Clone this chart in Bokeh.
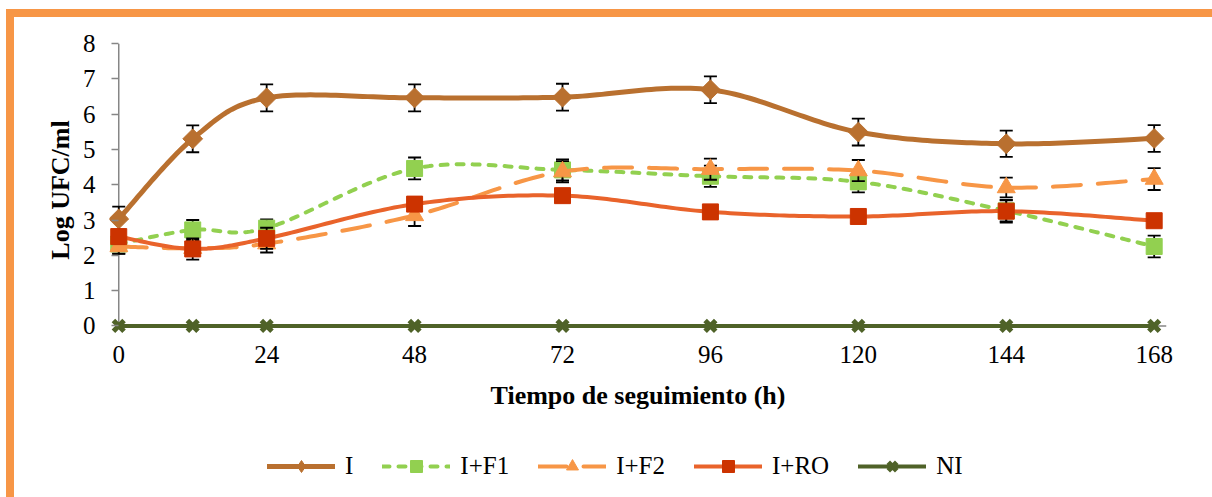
import numpy as np
from bokeh.plotting import figure
from bokeh.layouts import column
from bokeh.models import Range1d, FixedTicker, ColumnDataSource, Legend, LegendItem
from bokeh.embed import file_html
from bokeh.resources import INLINE

# ---------------- data ----------------
hours = [0, 12, 24, 48, 72, 96, 120, 144, 168]
x_ticks = [0, 24, 48, 72, 96, 120, 144, 168]
y_ticks = [0, 1, 2, 3, 4, 5, 6, 7, 8]
x_end = 170

names = ["I", "I+F1", "I+F2", "I+RO", "NI"]
vals_I = [3.03, 5.30, 6.46, 6.46, 6.48, 6.69, 5.49, 5.16, 5.31]
err_I = [0.35, 0.38, 0.38, 0.38, 0.38, 0.38, 0.38, 0.37, 0.38]
vals_F1 = [2.32, 2.72, 2.77, 4.46, 4.42, 4.24, 4.08, 3.26, 2.25]
err_F1 = [0.28, 0.28, 0.25, 0.31, 0.30, 0.30, 0.30, 0.30, 0.31]
vals_F2 = [2.25, 2.20, 2.33, 3.13, 4.37, 4.44, 4.40, 3.92, 4.16]
err_F2 = [0.20, 0.20, 0.25, 0.30, 0.30, 0.30, 0.30, 0.28, 0.31]
vals_RO = [2.53, 2.18, 2.48, 3.45, 3.69, 3.23, 3.10, 3.25, 2.98]
err_RO = [0.20, 0.30, 0.30, 0.15, 0.15, 0.15, 0.15, 0.32, 0.15]
vals_NI = [0, 0, 0, 0, 0, 0, 0, 0, 0]

x_title = "Tiempo de seguimiento (h)"
y_title = "Log UFC/ml"

# ---------------- helpers ----------------
def smooth(xs, ys, n=30):
    """Excel-like smoothed line (Catmull-Rom Bezier) through the data points."""
    pts = np.column_stack([xs, ys]).astype(float)
    out = [pts[0]]
    t = np.linspace(0, 1, n + 1)[1:, None]
    for i in range(len(pts) - 1):
        p0 = pts[i - 1] if i > 0 else pts[i]
        p1, p2 = pts[i], pts[i + 1]
        p3 = pts[i + 2] if i + 2 < len(pts) else pts[i + 1]
        c1 = p1 + (p2 - p0) / 6.0
        c2 = p2 - (p3 - p1) / 6.0
        seg = (1 - t) ** 3 * p1 + 3 * (1 - t) ** 2 * t * c1 + 3 * (1 - t) * t ** 2 * c2 + t ** 3 * p2
        out.extend(seg)
    out = np.array(out)
    return out[:, 0], out[:, 1]

orange = "#F79646"
axis_grey = "#868686"
font = "Liberation Serif"
W = 1198
H_MAIN = 419
H_LEG = 61

p = figure(width=W, height=H_MAIN, output_backend="svg", toolbar_location=None,
           x_range=Range1d(-1.5, x_end), y_range=Range1d(-0.3, 8),
           min_border_left=95, min_border_right=46, min_border_top=26, min_border_bottom=100)
p.grid.visible = False
p.outline_line_color = None
p.background_fill_color = "white"
p.border_fill_color = "white"

p.xaxis.ticker = FixedTicker(ticks=x_ticks)
p.yaxis.ticker = FixedTicker(ticks=y_ticks)
for ax in (p.xaxis, p.yaxis):
    ax.axis_line_color = None
    ax.major_tick_line_color = axis_grey
    ax.major_tick_line_width = 1.5
    ax.minor_tick_line_color = None
    ax.major_label_text_font = font
    ax.major_label_text_font_size = "25px"
    ax.major_label_text_color = "black"
    ax.axis_label_text_font = font
    ax.axis_label_text_font_size = "26px"
    ax.axis_label_text_font_style = "bold"
    ax.axis_label_text_color = "black"
p.xaxis.major_tick_out = 0
p.xaxis.major_tick_in = 0
p.xaxis.major_label_standoff = 9
p.xaxis.axis_label = x_title
p.xaxis.axis_label_standoff = 15
p.yaxis.major_tick_out = -2
p.yaxis.major_tick_in = 9
p.yaxis.major_label_standoff = 14
p.yaxis.axis_label = y_title
p.yaxis.axis_label_standoff = 5

# axis lines through the origin
p.segment(x0=[x_ticks[0], x_ticks[0]], y0=[y_ticks[0], y_ticks[0]],
          x1=[x_ticks[0], x_end], y1=[y_ticks[-1], y_ticks[0]],
          line_color=axis_grey, line_width=1.5)

specs = [
    # name, values, errors, line color, dash, line width, marker, marker color, size, angle,
    # legend marker, legend marker size
    ("I", vals_I, err_I, "#B9702F", "solid", 5, "square", "#B9702F", 14, np.pi / 4, "diamond", 20),
    ("I+F1", vals_F1, err_F1, "#92D050", "7 9", 4, "square", "#92D050", 16, 0, "square", 16),
    ("I+F2", vals_F2, err_F2, "#F79646", "28 17", 4, "triangle", "#F79646", 18, 0, "triangle", 18),
    ("I+RO", vals_RO, err_RO, "#E9632B", "solid", 4, "square", "#CC3300", 16, 0, "square", 16),
    ("NI", vals_NI, None, "#4F6228", "solid", 4, "x", "#4F6228", 15, 0, "x", 15),
]

# separate strip holding the legend (below the chart); its data range lies away
# from the series so only the legend glyphs show
q = figure(width=W, height=H_LEG, output_backend="svg", toolbar_location=None,
           x_range=Range1d(1000, 1001), y_range=Range1d(1000, 1001),
           x_axis_type=None, y_axis_type=None,
           min_border=0, min_border_left=0, min_border_right=0, min_border_top=0,
           min_border_bottom=0)
q.grid.visible = False
q.outline_line_color = None
q.border_fill_color = "white"
q.background_fill_color = "white"

items = []
for name, vals, errs, lc, dash, lw, mk, mc, ms, ang, lmk, lms in specs:
    sx, sy = smooth(hours, vals)
    p.line(sx, sy, line_color=lc, line_width=lw, line_dash=dash, line_cap="round",
           line_join="round")
    if errs is not None:
        up = [v + e for v, e in zip(vals, errs)]
        lo = [v - e for v, e in zip(vals, errs)]
        esrc = ColumnDataSource(dict(x=hours, up=up, lo=lo))
        p.segment(x0="x", y0="lo", x1="x", y1="up", source=esrc, line_color="black", line_width=1.8)
        p.scatter("x", "up", source=esrc, marker="dash", size=13, line_color="black", line_width=1.8)
        p.scatter("x", "lo", source=esrc, marker="dash", size=13, line_color="black", line_width=1.8)
    msrc = ColumnDataSource(dict(x=hours, y=vals))
    kw = dict(line_color=mc)
    if mk == "x":
        kw.update(line_width=5)
    else:
        kw.update(fill_color=mc, line_width=1)
    p.scatter("x", "y", source=msrc, marker=mk, size=ms, angle=ang, **kw)
    # legend glyphs (same styles; data out of this strip's view)
    lr = q.line(sx, sy, line_color=lc, line_width=lw, line_dash=dash, line_cap="round")
    mr = q.scatter("x", "y", source=msrc, marker=lmk, size=lms, **kw)
    items.append(LegendItem(label=name, renderers=[lr, mr]))

legend = Legend(items=items, orientation="horizontal", location=(158, 16),
                glyph_width=68, glyph_height=30, label_standoff=10, spacing=29,
                label_width=5, padding=0, margin=0, border_line_color=None,
                background_fill_alpha=0,
                label_text_font=font, label_text_font_size="25px", label_text_color="black")
q.add_layout(legend)

layout = column(p, q, spacing=0,
                styles={"border-left": "8px solid " + orange, "border-top": "8px solid " + orange,
                        "margin-left": "6px", "margin-top": "9px"})

open("out.html", "w").write(file_html(layout, INLINE))
